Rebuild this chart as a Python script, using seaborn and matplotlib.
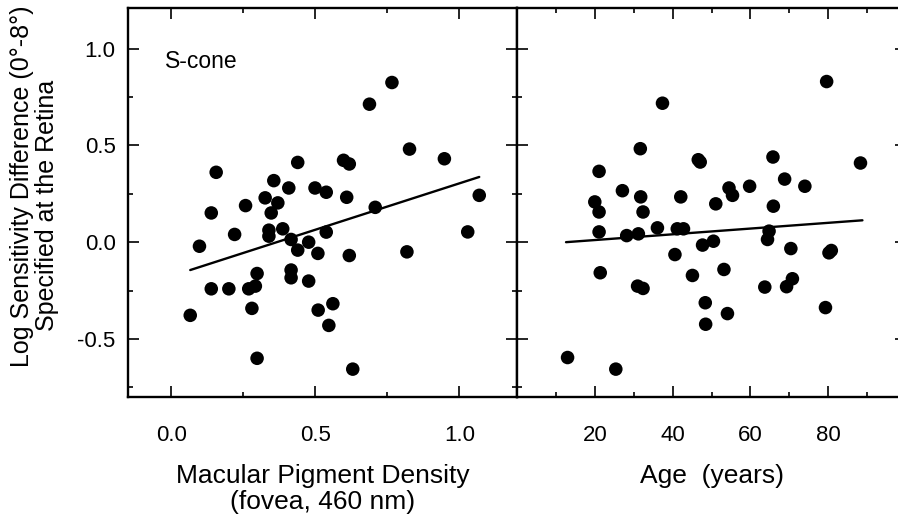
import matplotlib
matplotlib.use("Agg")
import matplotlib.pyplot as plt
import seaborn as sns
from matplotlib.ticker import MultipleLocator, FixedLocator

# ------------------------------------------------------- #
#                          DATOS                          #
# ------------------------------------------------------- #
# panel izquierdo: densidad de pigmento macular vs diferencia
mpd = [0.066, 0.098, 0.139, 0.156, 0.139, 0.200, 0.220, 0.258, 0.269, 0.292,
       0.298, 0.280, 0.298, 0.326, 0.356, 0.370, 0.347, 0.339, 0.339, 0.387,
       0.408, 0.439, 0.416, 0.439, 0.416, 0.416, 0.477, 0.477, 0.499, 0.538,
       0.509, 0.538, 0.510, 0.561, 0.547, 0.598, 0.618, 0.609, 0.618, 0.630,
       0.688, 0.766, 0.708, 0.827, 0.818, 0.948, 1.029, 1.069]
mpd_diff = [-0.378, -0.021, 0.151, 0.361, -0.241, -0.241, 0.040, 0.189, -0.241, -0.227,
            -0.162, -0.342, -0.600, 0.229, 0.318, 0.203, 0.151, 0.062, 0.031, 0.069,
            0.280, 0.412, 0.014, -0.041, -0.144, -0.184, 0.000, -0.201, 0.280, 0.258,
            -0.058, 0.052, -0.351, -0.318, -0.430, 0.423, 0.404, 0.232, -0.069, -0.656,
            0.713, 0.825, 0.180, 0.481, -0.050, 0.431, 0.053, 0.242]

# panel derecho: edad vs diferencia
age = [13.0, 25.4, 21.1, 20.0, 21.1, 21.1, 21.4, 27.1, 28.2, 31.2,
       31.7, 31.8, 32.4, 31.0, 32.4, 36.1, 37.4, 41.2, 42.8, 42.1,
       40.6, 45.1, 46.6, 47.1, 47.7, 50.5, 48.4, 48.5, 51.1, 53.2,
       54.1, 54.5, 55.4, 59.8, 64.8, 64.4, 65.8, 65.9, 63.7, 68.8,
       70.4, 70.8, 69.3, 74.0, 79.6, 80.8, 80.2, 79.3, 88.3]
age_diff = [-0.596, -0.656, 0.366, 0.208, 0.156, 0.053, -0.158, 0.266, 0.034, 0.043,
            0.483, 0.234, 0.156, -0.227, -0.239, 0.074, 0.718, 0.069, 0.069, 0.234,
            -0.064, -0.172, 0.426, 0.414, -0.015, 0.005, -0.313, -0.424, 0.198, -0.141,
            -0.369, 0.280, 0.242, 0.289, 0.057, 0.014, 0.440, 0.186, -0.232, 0.326,
            -0.033, -0.189, -0.230, 0.289, 0.830, -0.043, -0.055, -0.338, 0.409]

# rectas de regresion (extremos)
mpd_fit_x = [0.066, 1.069]
mpd_fit_y = [-0.144, 0.337]
age_fit_x = [12.6, 88.8]
age_fit_y = [0.000, 0.113]

# ------------------------------------------------------- #
#                         GRAFICO                         #
# ------------------------------------------------------- #
sns.set_style("ticks")
plt.rcParams['font.family'] = ['Liberation Sans', 'DejaVu Sans']
plt.rcParams['text.color'] = 'black'
plt.rcParams['axes.labelcolor'] = 'black'

W, H = 898, 521
fig = plt.figure(figsize=(W / 100, H / 100), dpi=100)
ax1 = fig.add_axes([128 / W, (H - 397) / H, 389 / W, 389 / H])
ax2 = fig.add_axes([517 / W, (H - 397) / H, 389 / W, 389 / H])

sns.scatterplot(x=mpd, y=mpd_diff, ax=ax1, color='black', s=95,
                edgecolor='none', linewidth=0)
sns.lineplot(x=mpd_fit_x, y=mpd_fit_y, ax=ax1, color='black', lw=1.7)
sns.scatterplot(x=age, y=age_diff, ax=ax2, color='black', s=95,
                edgecolor='none', linewidth=0)
sns.lineplot(x=age_fit_x, y=age_fit_y, ax=ax2, color='black', lw=1.7)

ax1.set_xlim(-0.15, 1.2)
ax2.set_xlim(0, 100)
for ax in (ax1, ax2):
    ax.set_ylim(-0.8, 1.21)
    ax.yaxis.set_major_locator(FixedLocator([-0.5, 0.0, 0.5, 1.0]))
    ax.yaxis.set_minor_locator(FixedLocator([-0.75, -0.25, 0.25, 0.75]))
    ax.tick_params(which='both', direction='in', top=True, right=True,
                   width=1.2, color='black', labelsize=16, labelcolor='black')
    ax.tick_params(which='major', length=8)
    ax.tick_params(which='minor', length=3.6)
    ax.tick_params(axis='x', pad=20)
    ax.tick_params(axis='y', pad=9)
    for sp in ax.spines.values():
        sp.set_linewidth(1.7)
        sp.set_color('black')

ax1.xaxis.set_major_locator(FixedLocator([0.0, 0.5, 1.0]))
ax1.xaxis.set_minor_locator(FixedLocator([0.25, 0.75]))
ax1.set_xticklabels(['0.0', '0.5', '1.0'])
ax1.set_yticklabels(['-0.5', '0.0', '0.5', '1.0'])

ax2.xaxis.set_major_locator(FixedLocator([20, 40, 60, 80]))
ax2.xaxis.set_minor_locator(MultipleLocator(10))
ax2.tick_params(axis='y', labelleft=False)

ax1.text(0.095, 0.862, 'S-cone', transform=ax1.transAxes, fontsize=16.5,
         va='center', ha='left')

ax1.set_xlabel('Macular Pigment Density\n(fovea, 460 nm)', fontsize=19,
               labelpad=13, linespacing=1.1)
ax2.set_xlabel('Age  (years)', fontsize=19, labelpad=13)

fig.text(22 / W, 1 - 186 / H, 'Log Sensitivity Difference (0°-8°)',
         rotation=90, fontsize=18, ha='center', va='center')
fig.text(47 / W, 1 - 205 / H, 'Specified at the Retina',
         rotation=90, fontsize=18, ha='center', va='center')

plt.savefig('out.png', dpi=100)
